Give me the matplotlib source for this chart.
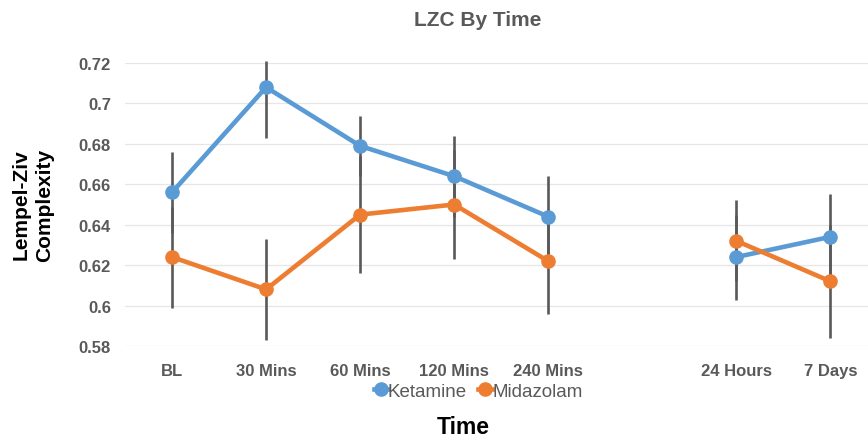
import numpy as np
import matplotlib
matplotlib.use("Agg")
import matplotlib.pyplot as plt
from matplotlib.lines import Line2D

plt.rcParams["font.family"] = ["Liberation Sans", "DejaVu Sans"]

# Kategorien (leere Kategorie zwischen 240 Mins und 24 Hours)
categories = ["BL", "30 Mins", "60 Mins", "120 Mins", "240 Mins", "", "24 Hours", "7 Days"]

ketamine = [0.656, 0.708, 0.679, 0.664, 0.644, np.nan, 0.624, 0.634]
ketamine_err_lo = [0.020, 0.025, 0.015, 0.020, 0.020, np.nan, 0.021, 0.021]
ketamine_err_hi = [0.020, 0.013, 0.015, 0.020, 0.020, np.nan, 0.021, 0.021]

midazolam = [0.624, 0.608, 0.645, 0.650, 0.622, np.nan, 0.632, 0.612]
midazolam_err_lo = [0.025, 0.025, 0.029, 0.027, 0.026, np.nan, 0.020, 0.028]
midazolam_err_hi = [0.025, 0.025, 0.029, 0.027, 0.026, np.nan, 0.020, 0.028]

C_KET = "#5B9BD5"
C_MID = "#ED7D31"
C_ERR = "#595959"
C_TXT = "#595959"

fig = plt.figure(figsize=(8.68, 4.39), dpi=100)
ax = fig.add_axes([125 / 868, 92 / 439, 1 - 125 / 868, 283 / 439])

x = np.arange(len(categories))

# Fehlerbalken
for vals, lo, hi in [(ketamine, ketamine_err_lo, ketamine_err_hi),
                     (midazolam, midazolam_err_lo, midazolam_err_hi)]:
    v = np.array(vals, dtype=float)
    eb = ax.errorbar(x, v, yerr=[lo, hi], fmt="none", ecolor=C_ERR, elinewidth=1.9,
                     capsize=0, zorder=2)
    for coll in eb.lines[2]:
        coll.set_clip_on(False)

# Linien mit Markern
ax.plot(x, ketamine, color=C_KET, lw=3.3, marker="o", ms=9.5, zorder=3, clip_on=False)
ax.plot(x, midazolam, color=C_MID, lw=3.3, marker="o", ms=9.5, zorder=4, clip_on=False)

ax.set_xlim(-0.5, 7.40)
ax.set_ylim(0.58, 0.72)
ax.set_yticks(np.arange(0.58, 0.7201, 0.02))
ax.set_yticklabels(["0.58", "0.6", "0.62", "0.64", "0.66", "0.68", "0.7", "0.72"])
ax.set_xticks(x)
ax.set_xticklabels(categories)

for s in ax.spines.values():
    s.set_visible(False)
ax.grid(axis="y", color="#E6E6E6", lw=0.9)
ax.set_axisbelow(True)
ax.tick_params(axis="both", length=0, labelsize=12, labelcolor=C_TXT)
ax.tick_params(axis="x", pad=12)
ax.tick_params(axis="y", pad=10)
for lbl in ax.get_xticklabels() + ax.get_yticklabels():
    lbl.set_fontweight("bold")

fig.text(478 / 868, 1 - 20 / 439, "LZC By Time", ha="center", va="center",
         fontsize=15, fontweight="bold", color=C_TXT)
fig.text(33 / 868, 1 - 205 / 439, "Lempel-Ziv\nComplexity", ha="center", va="center",
         rotation=90, fontsize=15, fontweight="bold", color="black", linespacing=1.3)
fig.text(463 / 868, 1 - 428 / 439, "Time", ha="center", va="center",
         fontsize=16.5, fontweight="bold", color="black")

handles = [Line2D([], [], color=C_KET, lw=3.3, marker="o", ms=9.5),
           Line2D([], [], color=C_MID, lw=3.3, marker="o", ms=9.5)]
leg = fig.legend(handles, ["Ketamine", "Midazolam"], loc="center",
                 bbox_to_anchor=(478 / 868, 1 - 392 / 439), ncol=2, frameon=False,
                 handlelength=0.75, handletextpad=0.0, columnspacing=0.6,
                 fontsize=13.5)
for t in leg.get_texts():
    t.set_color(C_TXT)

fig.savefig("out.png", dpi=100)
